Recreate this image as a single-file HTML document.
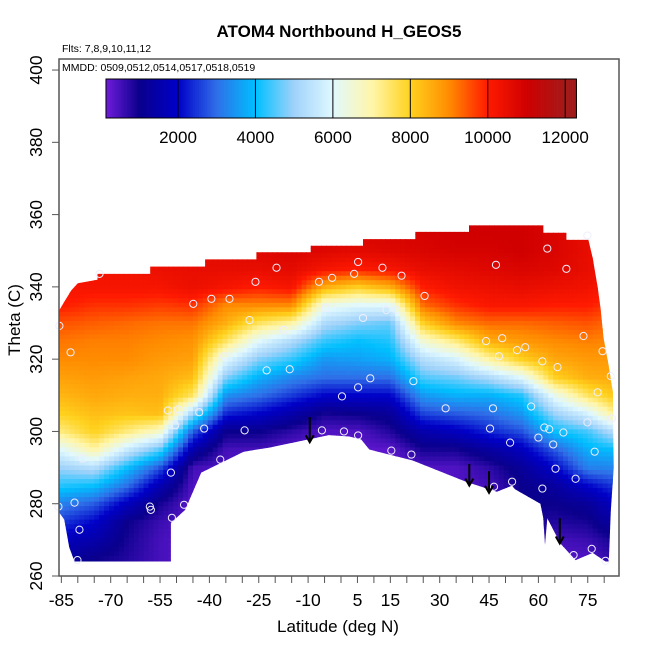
<!DOCTYPE html>
<html><head><meta charset="utf-8"><style>
html,body{margin:0;padding:0;background:#fff;}
svg{display:block;font-family:"Liberation Sans",sans-serif;}
</style></head><body>
<svg id="chart" width="650" height="650" viewBox="0 0 650 650" xmlns="http://www.w3.org/2000/svg">
<text x="339" y="37" text-anchor="middle" font-size="17" font-weight="bold">ATOM4 Northbound H_GEOS5</text>
<text x="62" y="52" font-size="10.5">Flts: 7,8,9,10,11,12</text>
<defs><clipPath id="dataClip"><polygon id="clipPoly"/></clipPath><clipPath id="boxClip"><rect x="59" y="59" width="560" height="517"/></clipPath></defs>
<g id="heat" clip-path="url(#boxClip)"><g id="cells" clip-path="url(#dataClip)"></g></g>
<g id="pts"></g>
<g id="arrows"></g>
<rect x="59" y="59" width="560" height="517" fill="none" stroke="#555" stroke-width="1.5"/>
<text x="62" y="71" font-size="10.5">MMDD: 0509,0512,0514,0517,0518,0519</text>
<g id="cbar"></g>
<g id="axes"></g>
<text x="338" y="632" text-anchor="middle" font-size="17">Latitude (deg N)</text>
<text transform="translate(20,320) rotate(-90)" text-anchor="middle" font-size="17">Theta (C)</text>
</svg>
<script>
const lats=[-85,-75,-65,-55,-45,-35,-25,-15,-5,5,15,25,35,45,55,65,75,85];
const thetas=[265,270,275,280,285,290,295,300,305,310,315,320,325,330,335,340,345,350,355];
const colM85=[1.4,1.8,2.5,3.2,4.2,5,6,7.3,8,8.4,8.7,9,9.2,9.5,10,10.2,10.2,10.2,10.2];
const colM75=[1.0,1.5,2,2.8,4,5.3,7,8,8.3,8.6,8.8,9,9.1,9.4,9.8,10.2,10.3,10.3,10.3];
const colM65=[0.8,0.9,1,1.8,3,4,5.6,7.3,8.2,8.5,8.7,9,9.1,9.3,9.8,10.2,10.3,10.4,10.4];
const colM55=[0.5,0.5,0.6,0.9,1.6,2.7,4.5,6.6,8.3,8.5,8.6,8.8,9,9.2,9.7,10.2,10.4,10.5,10.5];
const colM45=[0.3,0.3,0.3,0.3,0.4,0.5,1.5,2.8,5,7.5,8.3,8.7,8.9,9.2,9.8,10.4,10.5,10.6,10.6];
const colM35=[0.3,0.3,0.3,0.3,0.4,0.4,0.5,1,2.3,3.4,4.8,6,7.5,8.5,9,10.2,10.5,10.6,10.6];
const colM25=[0.3,0.3,0.3,0.3,0.4,0.4,0.5,1,2,3,3.8,4.8,6,7.5,9,10,10.5,10.7,10.7];
const colM15=[0.3,0.3,0.3,0.3,0.3,0.3,0.3,0.7,1.5,2.5,3.3,4.3,5.2,7,9,10.2,10.6,10.8,10.8];
const colM5=[0.3,0.3,0.3,0.3,0.3,0.3,0.3,0.4,0.9,2,3,3.5,4.3,5.2,6.3,8.5,10.2,10.7,10.8];
const colP5=[0.3,0.3,0.3,0.3,0.3,0.3,0.3,0.4,1,2,3,3.6,4,4.8,6,8,10,10.6,10.8];
const colP15=[0.3,0.3,0.3,0.3,0.3,0.3,0.3,0.8,1.2,2,3,3.8,4.2,4.6,6,8.5,10.2,10.7,10.9];
const colP25=[0.4,0.4,0.4,0.4,0.4,0.4,0.9,1.5,2.6,3.5,4.5,5.3,6.5,8,9.3,10,10.5,10.8,10.9];
const colP35=[0.4,0.4,0.4,0.4,0.4,0.4,0.9,1.8,2.8,3.8,4.7,5.8,7.3,9,9.8,10.3,10.6,10.9,11];
const colP45=[0.5,0.5,0.5,0.5,0.5,0.7,1.3,2.3,3,3.8,5.2,7,8.5,9.3,10.1,10.4,10.7,10.9,11];
const colP55=[1,1,1,1,1,1.2,1.8,2.7,3.5,4.2,6,8,8.8,9.3,10.1,10.5,10.8,11,11];
const colP65=[0.4,0.5,0.8,1,1.3,2,2.8,4,5,6.2,8,8.6,9,9.4,10,10.4,10.7,10.8,10.8];
const colP75=[0.4,0.6,0.9,1.2,2,3.2,3.8,4.4,5.8,7.5,8.5,8.8,9.1,9.5,10,10.3,10.5,10.5,10.5];
const colP85=[0.8,1,1.5,2,2.6,3.3,4,5.5,7.5,8.3,8.6,8.8,9,9.2,9.6,10,10.2,10.2,10.2];
const grid=[colM85,colM75,colM65,colM55,colM45,colM35,colM25,colM15,colM5,colP5,colP15,colP25,colP35,colP45,colP55,colP65,colP75,colP85];
const boundLat=[-86,-86,-84,-82,-80,-74,-74,-58,-58,-41.3,-41.3,-25.7,-25.7,-9.2,-9.2,6.7,6.7,22.6,22.6,38.9,38.9,61.5,61.5,68.5,68.5,75.2,76.5,78,78.9,79.8,81.4,82.6,82.9,82,81.4,80.4,76.5,71.3,66.7,62.7,62,61.5,60.6,52.9,52,47.4,38.2,21.7,8.6,6.1,2.5,-3.7,-22,-29.6,-42.5,-47.4,-51.7,-51.7,-81,-82.6,-84.1,-85.6,-86];
const boundTheta=[330,333,336,339,341,342,343.6,343.6,345.6,345.6,347.6,347.6,349.6,349.6,351.4,351.4,353.2,353.2,355.2,355.2,357,357,355,355,353,353,348,340,334,326,318,311,290,278,264,264,266.4,264.4,269,276,268.6,276,280,284,285,283.3,286,292,295,297.8,298.6,299,295.5,294.4,288.6,278.3,274.7,264,264,268,275.6,277.5,278];
const ptLat=[-85.6,-82.2,-78.6,-81.0,-85.9,-79.5,-80.1,-73.4,-52.6,-49.5,-43.1,-50.4,-41.6,-29.3,-36.7,-51.7,-58.1,-57.8,-47.7,-51.4,-44.9,-39.4,-33.9,-26.0,-19.6,-27.8,-17.4,-35.5,-22.6,-15.6,-6.7,-2.7,-4.6,-5.8,5.2,12.6,4.0,18.4,47.1,62.7,68.5,74.9,25.4,13.8,16.8,6.7,8.9,5.2,0.3,22.0,44.1,49.0,48.0,53.5,56.0,61.2,65.8,73.7,79.5,82.0,78.0,57.8,31.8,46.2,45.3,0.9,5.2,15.3,21.4,51.4,60.0,61.8,63.3,67.6,64.5,74.9,82.3,77.1,65.2,71.3,61.2,52.0,46.5,70.7,76.2,80.4];
const ptTheta=[329.2,321.9,292.5,280.3,279.2,272.8,264.4,343.6,305.8,306.1,305.3,301.7,300.8,300.3,292.2,288.6,279.2,278.3,279.7,276.1,335.3,336.7,336.7,341.4,345.3,330.8,328.1,320.8,316.9,317.2,341.4,342.5,334.2,300.3,346.9,345.3,343.6,343.1,346.1,350.6,345.0,354.2,337.5,333.6,333.6,331.4,314.7,312.2,309.7,313.9,325.0,325.8,320.8,322.5,323.3,319.4,317.8,326.4,322.2,315.3,310.8,306.9,306.4,306.4,300.8,300.0,298.9,294.7,293.6,296.9,298.3,301.1,300.6,299.7,296.4,302.5,303.6,294.4,289.7,286.9,284.2,286.1,284.7,265.8,267.5,264.2];
const arrowLat=[-9.5,39,45,66.5];
const arrowTop=[304,291,289,276];
const arrowBot=[297,285,283,269];
const xTicks=[-85,-80,-75,-70,-65,-60,-55,-50,-45,-40,-35,-30,-25,-20,-15,-10,-5,0,5,10,15,20,25,30,35,40,45,50,55,60,65,70,75,80];
const xLabels=[-85,-70,-55,-40,-25,-10,5,15,30,45,60,75];
const yLabels=[260,280,300,320,340,360,380,400];
const cbarLabels=[2000,4000,6000,8000,10000,12000];
const cbarMin=140, cbarMax=12290;

const NS="http://www.w3.org/2000/svg";
const X=lat=>341+lat*3.29;
const Y=th=>576-(th-260)*3.614;
const CX=v=>178+(v-2000)*0.03872;
const stopsV=[0,1000,2000,3000,4000,5000,6000,7000,8000,9000,10000,11000,12000,12300];
const stopsC=[[128,32,232],[10,0,140],[0,0,200],[47,111,232],[0,191,255],[160,210,250],[224,248,255],[255,246,170],[255,210,30],[255,140,0],[255,26,0],[208,0,0],[163,26,26],[160,26,26]];
function color(v){
  if(v<=stopsV[0])return 'rgb('+stopsC[0]+')';
  for(let i=1;i<stopsV.length;i++){if(v<=stopsV[i]){const t=(v-stopsV[i-1])/(stopsV[i]-stopsV[i-1]);const a=stopsC[i-1],b=stopsC[i];return 'rgb('+a.map((c,k)=>Math.round(c+(b[k]-c)*t)).join(',')+')';}}
  return 'rgb('+stopsC[stopsC.length-1]+')';
}
function mk(tag,attrs,parent){const e=document.createElementNS(NS,tag);for(const k in attrs)e.setAttribute(k,attrs[k]);parent.appendChild(e);return e;}
function interp(arr,v){if(v<=arr[0])return[0,0];if(v>=arr[arr.length-1])return[arr.length-1,0];for(let i=0;i<arr.length-1;i++)if(v<=arr[i+1])return[i,(v-arr[i])/(arr[i+1]-arr[i])];}
function val(lat,th){const[i,ti]=interp(lats,lat);const[j,tj]=interp(thetas,th);const i2=Math.min(i+1,lats.length-1),j2=Math.min(j+1,thetas.length-1);
  const a=grid[i][j]*(1-tj)+grid[i][j2]*tj,b=grid[i2][j]*(1-tj)+grid[i2][j2]*tj;return (a*(1-ti)+b*ti)*1000;}
document.getElementById('clipPoly').setAttribute('points',boundLat.map((l,i)=>X(l).toFixed(1)+','+Y(boundTheta[i]).toFixed(1)).join(' '));
const cells=document.getElementById('cells');
const dl=1.5,dt=1.25;
for(let lat=-87;lat<86;lat+=dl){for(let th=262;th<360;th+=dt){
  mk('rect',{x:X(lat).toFixed(2),y:Y(th+dt).toFixed(2),width:(dl*3.29+0.6).toFixed(2),height:(dt*3.614+0.6).toFixed(2),fill:color(val(lat+dl/2,th+dt/2))},cells);
}}
const pts=document.getElementById('pts');
ptLat.forEach((l,i)=>{const c=mk('circle',{cx:X(l),cy:Y(ptTheta[i]),r:3.6,fill:'none',stroke:'#eef',"stroke-width":1},pts);

});
const ar=document.getElementById('arrows');
arrowLat.forEach((l,i)=>{const x=X(l),y1=Y(arrowTop[i]),y2=Y(arrowBot[i]);
const g=mk('g',{},ar);


mk('line',{x1:x,y1:y1,x2:x,y2:y2,stroke:'#000','stroke-width':2},g);
mk('path',{d:`M${x-4},${y2-7} L${x},${y2} L${x+4},${y2-7}`,fill:'none',stroke:'#000','stroke-width':2},g);});
const cb=document.getElementById('cbar');
for(let v=cbarMin;v<cbarMax;v+=50){mk('rect',{x:CX(v).toFixed(2),y:79,width:2.3,height:39,fill:color(v+25)},cb);}
mk('rect',{x:CX(cbarMin),y:79,width:CX(cbarMax)-CX(cbarMin),height:39,fill:'none',stroke:'#000','stroke-width':1},cb);
cbarLabels.forEach(v=>{mk('line',{x1:CX(v),x2:CX(v),y1:79,y2:118,stroke:'#000','stroke-width':1},cb);
const t=mk('text',{x:CX(v),y:143,'text-anchor':'middle','font-size':17},cb);t.textContent=v;

});
const ax=document.getElementById('axes');
xTicks.forEach(v=>{mk('line',{x1:X(v),x2:X(v),y1:576,y2:583,stroke:'#555','stroke-width':1},ax);});
xLabels.forEach(v=>{const t=mk('text',{x:X(v),y:606,'text-anchor':'middle','font-size':17.5},ax);t.textContent=v;

});
yLabels.forEach(v=>{mk('line',{x1:52,x2:59,y1:Y(v),y2:Y(v),stroke:'#555','stroke-width':1},ax);
const t=mk('text',{transform:`translate(42,${Y(v)}) rotate(-90)`,'text-anchor':'middle','font-size':17.5},ax);t.textContent=v;

});
</script>
</body></html>
